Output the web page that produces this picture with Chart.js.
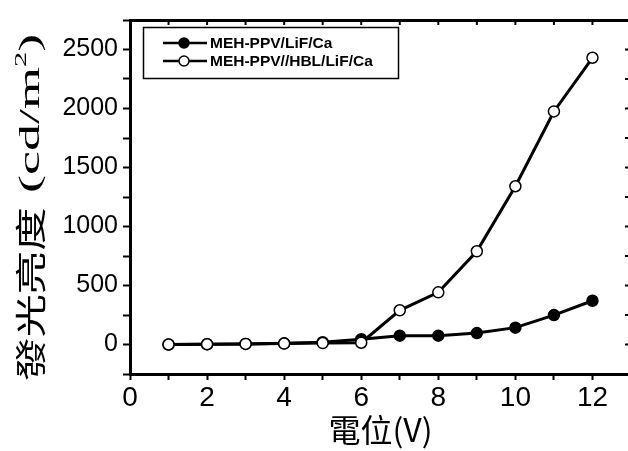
<!DOCTYPE html>
<html>
<head>
<meta charset="utf-8">
<script src="https://cdn.jsdelivr.net/npm/chart.js@4"></script>
<style>
  html, body { margin: 0; padding: 0; background: #fff; overflow: hidden; }
  #wrap { width: 628px; height: 451px; overflow: hidden; }
</style>
</head>
<body>
<div id="wrap">
  <canvas id="chart" width="640" height="451"></canvas>
</div>
<script>
// data
const voltage = [1, 2, 3, 4, 5, 6, 7, 8, 9, 10, 11, 12];
const lifCa = [0, 2, 5, 10, 20, 45, 75, 75, 97, 143, 249, 371];
const hblLifCa = [0, 2, 5, 8, 12, 15, 290, 442, 790, 1341, 1975, 2430];

const seriesNames = ["MEH-PPV/LiF/Ca", "MEH-PPV//HBL/LiF/Ca"];
const xTitle = "電位(V)";
const yTitleCJK = "發光亮度";
const yTitleUnit = "(cd/m";

const toXY = (xs, ys) => xs.map((x, i) => ({ x: x, y: ys[i] }));

// y axis title, stretched like the scanned original
const yTitlePlugin = {
  id: "yTitle",
  afterDraw(chart) {
    const ctx = chart.ctx;
    ctx.save();
    ctx.translate(30, 381);
    ctx.rotate(-Math.PI / 2);
    ctx.fillStyle = "#000";
    ctx.textBaseline = "middle";
    ctx.textAlign = "left";

    ctx.save();
    ctx.font = '31px "Noto Sans CJK TC"';
    ctx.scale(1.4, 1);
    ctx.fillText(yTitleCJK, 0, 0);
    ctx.restore();

    ctx.save();
    ctx.translate(188, 1);
    ctx.scale(1.8, 1);
    ctx.font = '30px "Liberation Serif"';
    ctx.fillText(yTitleUnit, 0, 0);
    let w = ctx.measureText(yTitleUnit).width;
    ctx.font = '17px "Liberation Serif"';
    ctx.fillText("2", w, -9);
    w += ctx.measureText("2").width;
    ctx.font = '30px "Liberation Serif"';
    ctx.fillText(")", w, 0);
    ctx.restore();
    ctx.restore();
  }
};

// inward ticks on the top and right frame + legend box
const framePlugin = {
  id: "frame",
  afterDraw(chart) {
    const ctx = chart.ctx;
    const a = chart.chartArea;
    const xs = chart.scales.x;
    const ys = chart.scales.y;
    ctx.save();
    ctx.strokeStyle = "#000";
    ctx.lineWidth = 2;
    xs.ticks.forEach(t => {
      const px = xs.getPixelForValue(t.value);
      if (px <= a.left + 2 || px >= a.right - 2) return;
      ctx.beginPath();
      ctx.moveTo(px, a.top);
      ctx.lineTo(px, a.top + 5);
      ctx.stroke();
    });
    ys.ticks.forEach(t => {
      const py = ys.getPixelForValue(t.value);
      if (py <= a.top + 2 || py >= a.bottom - 2) return;
      ctx.beginPath();
      ctx.moveTo(a.right, py);
      ctx.lineTo(a.right - 6, py);
      ctx.stroke();
    });

    // legend
    ctx.lineWidth = 1.5;
    ctx.strokeRect(143.5, 27.5, 255, 51);
    const rows = [43, 61];
    rows.forEach((ry, i) => {
      ctx.lineWidth = 2.5;
      ctx.beginPath();
      ctx.moveTo(163, ry);
      ctx.lineTo(207, ry);
      ctx.stroke();
      ctx.beginPath();
      ctx.arc(184, ry, 5, 0, Math.PI * 2);
      ctx.fillStyle = i === 0 ? "#000" : "#fff";
      ctx.fill();
      ctx.lineWidth = 1.5;
      ctx.stroke();
      ctx.fillStyle = "#000";
      ctx.font = 'bold 15.5px "Liberation Sans"';
      ctx.textBaseline = "middle";
      ctx.textAlign = "left";
      ctx.fillText(seriesNames[i], 210, ry + 1);
    });
    ctx.restore();
  }
};

const ctx = document.getElementById("chart").getContext("2d");

new Chart(ctx, {
  type: "line",
  data: {
    datasets: [
      {
        label: seriesNames[0],
        data: toXY(voltage, lifCa),
        borderColor: "#000",
        backgroundColor: "#000",
        borderWidth: 3,
        pointRadius: 5.5,
        pointBorderWidth: 1.5,
        pointBorderColor: "#000",
        pointBackgroundColor: "#000",
        order: 1
      },
      {
        label: seriesNames[1],
        data: toXY(voltage, hblLifCa),
        borderColor: "#000",
        backgroundColor: "#fff",
        borderWidth: 3,
        pointRadius: 5.5,
        pointBorderWidth: 1.5,
        pointBorderColor: "#000",
        pointBackgroundColor: "#fff",
        order: 0
      }
    ]
  },
  options: {
    responsive: false,
    animation: false,
    layout: { padding: 0 },
    plugins: {
      legend: { display: false },
      tooltip: { enabled: false }
    },
    scales: {
      x: {
        type: "linear",
        position: "bottom",
        min: 0,
        max: 13,
        afterFit: s => { s.height = 77; },
        ticks: {
          stepSize: 1,
          autoSkip: false,
          maxRotation: 0,
          padding: 1,
          color: "#000",
          font: { family: "Liberation Sans", size: 28 },
          callback: v => (v % 2 === 0 && v <= 12 ? v : "")
        },
        grid: {
          drawOnChartArea: false,
          tickLength: 6,
          tickWidth: 2,
          tickColor: "#000"
        },
        border: { display: true, width: 3, color: "#000" },
        title: {
          display: true,
          text: xTitle,
          color: "#000",
          padding: { top: 0, bottom: 2 },
          font: { family: "Noto Sans CJK TC", size: 32 }
        }
      },
      x2: {
        type: "linear",
        position: "top",
        min: 0,
        max: 13,
        afterFit: s => { s.height = 12; },
        ticks: { display: false },
        grid: { drawOnChartArea: false, drawTicks: false },
        border: { display: true, width: 3, color: "#000" }
      },
      y: {
        type: "linear",
        position: "left",
        min: -250,
        max: 2750,
        afterFit: s => { s.width = 130; },
        ticks: {
          stepSize: 250,
          autoSkip: false,
          padding: 5,
          color: "#000",
          font: { family: "Liberation Sans", size: 25 },
          callback: v => (v >= 0 && v % 500 === 0 ? v : "")
        },
        grid: {
          drawOnChartArea: false,
          tickLength: 7,
          tickWidth: 2,
          tickColor: "#000"
        },
        border: { display: true, width: 3, color: "#000" }
      },
      y2: {
        type: "linear",
        position: "right",
        min: -250,
        max: 2750,
        afterFit: s => { s.width = 9; },
        ticks: { display: false },
        grid: { drawOnChartArea: false, drawTicks: false },
        border: { display: true, width: 3, color: "#000" }
      }
    }
  },
  plugins: [yTitlePlugin, framePlugin]
});
</script>
</body>
</html>
